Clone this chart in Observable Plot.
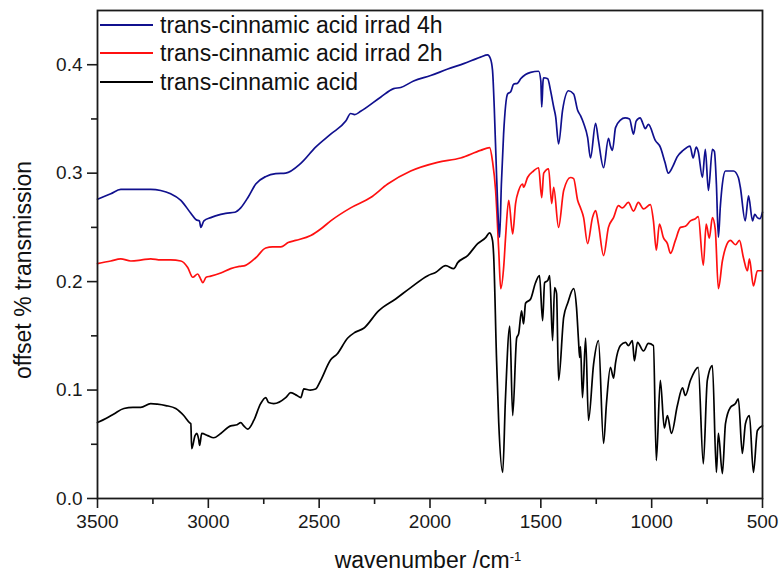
<!DOCTYPE html>
<html><head><meta charset="utf-8">
<script src="https://cdn.jsdelivr.net/npm/d3@7"></script>
<script src="https://cdn.jsdelivr.net/npm/@observablehq/plot@0.6"></script>
<style>
body{margin:0;background:#fff;}
#wrap{position:relative;width:780px;height:577px;font-family:"Liberation Sans",Arial,sans-serif;color:#111;overflow:hidden;}
#wrap svg{position:absolute;left:0;top:0;}
.lg{position:absolute;left:100px;height:28px;display:flex;align-items:center;font-size:23px;white-space:nowrap;}
.sw{display:inline-block;width:53px;height:2px;margin-right:7px;}
#xt{position:absolute;left:428px;top:549px;transform:translateX(-50%);font-size:23px;line-height:23px;white-space:nowrap;}
#xt sup{font-size:13px;vertical-align:top;position:relative;top:-4px;}
#yt{position:absolute;left:23px;top:270px;transform:translate(-50%,-50%) rotate(-90deg);font-size:23px;line-height:23px;white-space:nowrap;}
</style>
</head><body>
<div id="wrap"></div>
<script>
// ---- data ----
const seriesNames = ["trans-cinnamic acid irrad 4h", "trans-cinnamic acid irrad 2h", "trans-cinnamic acid"];
const seriesColors = ["#10108e", "#ff1010", "#000000"];
const xMajor = [3500, 3000, 2500, 2000, 1500, 1000, 500];
const xMinor = [3250, 2750, 2250, 1750, 1250, 750];
const yMajor = [0, 0.1, 0.2, 0.3, 0.4];
const yMinor = [0.05, 0.15, 0.25, 0.35];
const yTickLabels = ["0.0", "0.1", "0.2", "0.3", "0.4"];
const xTitle = "wavenumber /cm";
const xTitleSup = "-1";
const yTitle = "offset % transmission";

// [wavenumber, value]
const irrad4h = [[3500,0.276],[3440,0.281],[3395,0.285],[3330,0.285],[3260,0.285],[3215,0.284],[3170,0.281],[3124,0.275],[3079,0.263],[3055,0.257],[3040,0.256],[3034,0.250],[3020,0.256],[2989,0.259],[2944,0.262],[2922,0.263],[2880,0.264],[2854,0.268],[2820,0.278],[2786,0.290],[2740,0.297],[2696,0.2995],[2651,0.300],[2583,0.309],[2516,0.324],[2448,0.336],[2380,0.348],[2358,0.355],[2340,0.354],[2313,0.357],[2223,0.370],[2164,0.378],[2132,0.379],[2074,0.385],[1997,0.390],[1920,0.396],[1848,0.401],[1772,0.407],[1740,0.409],[1728,0.406],[1718,0.395],[1710,0.36],[1700,0.30],[1690,0.25],[1686,0.241],[1678,0.29],[1668,0.336],[1650,0.373],[1636,0.375],[1623,0.382],[1605,0.383],[1591,0.387],[1569,0.391],[1546,0.393],[1510,0.394],[1500,0.385],[1496,0.361],[1490,0.385],[1487,0.388],[1469,0.387],[1456,0.376],[1442,0.361],[1433,0.352],[1420,0.327],[1402,0.358],[1375,0.376],[1352,0.373],[1334,0.358],[1321,0.353],[1307,0.346],[1289,0.333],[1276,0.314],[1253,0.346],[1240,0.33],[1217,0.305],[1195,0.332],[1186,0.325],[1177,0.321],[1163,0.342],[1141,0.349],[1120,0.351],[1100,0.350],[1082,0.336],[1070,0.348],[1052,0.351],[1040,0.346],[1029,0.341],[1015,0.345],[983,0.330],[961,0.324],[940,0.31],[925,0.300],[905,0.306],[885,0.315],[858,0.321],[827,0.325],[813,0.314],[799,0.324],[790,0.320],[771,0.296],[758,0.322],[744,0.284],[726,0.322],[717,0.320],[708,0.29],[699,0.241],[690,0.27],[681,0.29],[667,0.302],[631,0.302],[609,0.296],[600,0.287],[578,0.256],[563,0.279],[545,0.256],[535,0.262],[523,0.259],[512,0.258],[500,0.264]];

const irrad2h = [[3500,0.2166],[3440,0.219],[3395,0.221],[3350,0.219],[3300,0.220],[3260,0.221],[3215,0.220],[3170,0.220],[3124,0.219],[3093,0.213],[3070,0.204],[3048,0.207],[3036,0.203],[3025,0.199],[3010,0.204],[2989,0.205],[2944,0.208],[2899,0.212],[2860,0.214],[2832,0.215],[2786,0.222],[2741,0.231],[2710,0.232],[2673,0.232],[2640,0.236],[2606,0.238],[2538,0.2425],[2490,0.249],[2448,0.256],[2358,0.268],[2268,0.2775],[2191,0.290],[2087,0.302],[1966,0.31],[1862,0.314],[1772,0.321],[1731,0.3235],[1718,0.311],[1704,0.284],[1690,0.229],[1681,0.1935],[1667,0.215],[1659,0.241],[1645,0.275],[1627,0.244],[1614,0.272],[1600,0.284],[1582,0.290],[1578,0.287],[1560,0.296],[1533,0.302],[1510,0.305],[1496,0.2775],[1487,0.300],[1465,0.304],[1451,0.272],[1442,0.287],[1420,0.25],[1397,0.284],[1366,0.296],[1352,0.295],[1334,0.275],[1321,0.268],[1307,0.259],[1289,0.235],[1267,0.259],[1253,0.2655],[1240,0.253],[1217,0.224],[1195,0.25],[1172,0.259],[1150,0.270],[1132,0.268],[1105,0.273],[1082,0.265],[1060,0.273],[1037,0.267],[1006,0.271],[992,0.256],[979,0.229],[965,0.253],[947,0.2405],[929,0.235],[915,0.226],[893,0.238],[870,0.25],[848,0.251],[825,0.256],[803,0.258],[790,0.26],[767,0.215],[754,0.253],[740,0.24],[726,0.259],[713,0.248],[699,0.1935],[681,0.219],[667,0.231],[645,0.238],[622,0.234],[604,0.238],[586,0.222],[568,0.21],[559,0.221],[541,0.196],[523,0.21],[500,0.21]];

const acid = [[3500,0.070],[3460,0.074],[3426,0.078],[3381,0.083],[3340,0.084],[3305,0.084],[3260,0.0875],[3230,0.087],[3192,0.0857],[3147,0.083],[3111,0.0765],[3085,0.070],[3079,0.069],[3075,0.046],[3060,0.058],[3052,0.060],[3044,0.055],[3039,0.049],[3030,0.060],[3003,0.058],[2976,0.056],[2944,0.060],[2899,0.067],[2870,0.068],[2854,0.070],[2840,0.067],[2822,0.064],[2795,0.072],[2764,0.0875],[2741,0.093],[2728,0.0885],[2705,0.0875],[2651,0.093],[2628,0.0977],[2600,0.095],[2583,0.093],[2569,0.101],[2540,0.100],[2516,0.101],[2493,0.109],[2448,0.128],[2420,0.133],[2371,0.148],[2340,0.153],[2299,0.157],[2232,0.173],[2155,0.184],[2087,0.1945],[2010,0.2055],[1975,0.2085],[1929,0.2147],[1893,0.212],[1875,0.2175],[1830,0.224],[1785,0.235],[1749,0.2405],[1731,0.245],[1718,0.238],[1713,0.225],[1700,0.13],[1690,0.07],[1672,0.024],[1660,0.09],[1640,0.159],[1627,0.0765],[1609,0.148],[1600,0.152],[1587,0.173],[1578,0.161],[1569,0.180],[1546,0.184],[1524,0.199],[1506,0.2055],[1492,0.164],[1483,0.199],[1469,0.201],[1460,0.2055],[1447,0.1456],[1438,0.1945],[1429,0.189],[1420,0.109],[1397,0.167],[1379,0.180],[1352,0.1935],[1339,0.176],[1330,0.1456],[1325,0.13],[1321,0.14],[1312,0.093],[1298,0.148],[1285,0.072],[1262,0.124],[1240,0.1456],[1217,0.0507],[1204,0.0875],[1186,0.121],[1172,0.111],[1163,0.125],[1141,0.141],[1118,0.144],[1105,0.141],[1087,0.1456],[1078,0.127],[1064,0.144],[1037,0.136],[1015,0.143],[992,0.141],[979,0.035],[961,0.109],[943,0.065],[929,0.0765],[911,0.060],[884,0.0857],[861,0.102],[848,0.095],[825,0.109],[790,0.121],[767,0.032],[749,0.109],[726,0.1226],[708,0.024],[699,0.06],[681,0.023],[667,0.069],[645,0.084],[622,0.0875],[609,0.092],[591,0.0415],[577,0.069],[559,0.0765],[541,0.024],[523,0.0627],[500,0.067]];

// ---- chart ----
const lineOpts = (c) => ({x: d => d[0], y: d => d[1], stroke: c, strokeWidth: 1.7, strokeLinejoin: "round", curve: "monotone-x"});
const chart = Plot.plot({
  width: 780, height: 577,
  marginLeft: 97, marginRight: 18, marginTop: 10, marginBottom: 79,
  x: {domain: [3500, 500], label: null},
  y: {domain: [0, 0.45], label: null},
  style: {fontFamily: "'Liberation Sans', Arial, sans-serif", fontSize: "19px", color: "#1a1a1a", background: "#fff"},
  marks: [
    Plot.axisX({ticks: xMajor, tickSize: 10, tickPadding: 6, tickFormat: d => String(d), strokeWidth: 1.6, label: null}),
    Plot.axisX({ticks: xMinor, tickSize: 6, tickFormat: () => "", strokeWidth: 1.6, label: null}),
    Plot.axisY({ticks: yMajor, tickSize: 10, tickPadding: 5, tickFormat: d => yTickLabels[yMajor.indexOf(d)], strokeWidth: 1.6, label: null}),
    Plot.axisY({ticks: yMinor, tickSize: 6, tickFormat: () => "", strokeWidth: 1.6, label: null}),
    Plot.line(acid, lineOpts(seriesColors[2])),
    Plot.line(irrad2h, lineOpts(seriesColors[1])),
    Plot.line(irrad4h, lineOpts(seriesColors[0])),
    Plot.frame({stroke: "#1a1a1a", strokeWidth: 1.8})
  ]
});
const wrap = document.getElementById("wrap");
wrap.appendChild(chart);

// legend
const rowCenters = [25, 53, 82];
seriesNames.forEach((name, i) => {
  const row = document.createElement("div");
  row.className = "lg";
  row.style.top = (rowCenters[i] - 14) + "px";
  const sw = document.createElement("span");
  sw.className = "sw";
  sw.style.background = seriesColors[i];
  row.appendChild(sw);
  row.appendChild(document.createTextNode(name));
  wrap.appendChild(row);
});
// axis titles
const xt = document.createElement("div");
xt.id = "xt";
xt.textContent = xTitle;
const sup = document.createElement("sup");
sup.textContent = xTitleSup;
xt.appendChild(sup);
wrap.appendChild(xt);
const yt = document.createElement("div");
yt.id = "yt";
yt.textContent = yTitle;
wrap.appendChild(yt);
</script>
</body></html>
